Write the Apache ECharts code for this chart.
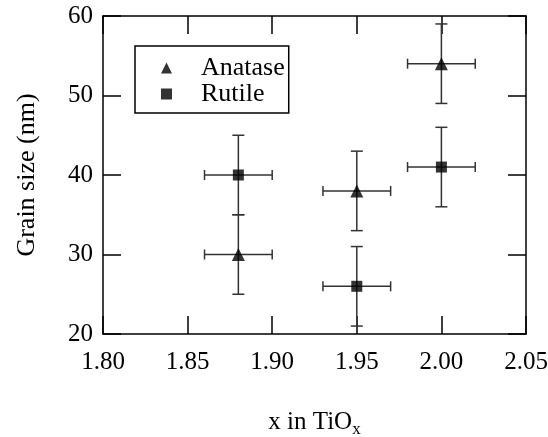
<!DOCTYPE html>
<html>
<head>
<meta charset="utf-8">
<script src="https://cdn.jsdelivr.net/npm/echarts@6/dist/echarts.min.js"></script>
<style>html,body{margin:0;padding:0;background:#fff}#c{width:548px;height:437px}</style>
</head>
<body>
<div id="c"></div>
<script>
const xValues = [1.88, 1.95, 2.00];
const xErr = [0.02, 0.02, 0.02];
const anataseSize = [30, 38, 54];
const anataseErr = [5, 5, 5];
const rutileSize = [40, 26, 41];
const rutileErr = [5, 5, 5];
const xTicks = [1.80, 1.85, 1.90, 1.95, 2.00, 2.05];
const yTicks = [20, 30, 40, 50, 60];

const FONT = '"Liberation Serif", "DejaVu Serif", serif';
const chart = echarts.init(document.getElementById('c'), null, {renderer: 'canvas'});

function errData(ys, yerr) {
  return xValues.map((x, i) => [x, ys[i], xErr[i], yerr[i]]);
}
function errRender(params, api) {
  const x = api.value(0), y = api.value(1), dx = api.value(2), dy = api.value(3);
  const l = api.coord([x - dx, y]), r = api.coord([x + dx, y]);
  const t = api.coord([x, y + dy]), b = api.coord([x, y - dy]);
  const st = {stroke: '#333', lineWidth: 1.5};
  const cw = 6, ch = 5;
  const line = (x1, y1, x2, y2) => ({type: 'line', shape: {x1, y1, x2, y2}, style: st});
  return {type: 'group', children: [
    line(l[0], l[1], r[0], r[1]),
    line(l[0], l[1] - ch, l[0], l[1] + ch),
    line(r[0], r[1] - ch, r[0], r[1] + ch),
    line(t[0], t[1], b[0], b[1]),
    line(t[0] - cw, t[1], t[0] + cw, t[1]),
    line(b[0] - cw, b[1], b[0] + cw, b[1])
  ]};
}

const axisCommon = {
  axisLine: {show: true, onZero: false, lineStyle: {color: '#000', width: 1.5}},
  axisTick: {show: true, inside: true, length: 18, lineStyle: {color: '#000', width: 1.5}},
  splitLine: {show: false}
};

chart.setOption({
  backgroundColor: '#fff',
  animation: false,
  grid: {left: 103, right: 22, top: 16, bottom: 103, containLabel: false, outerBoundsMode: 'none'},
  legend: {
    data: [{name: 'Anatase', icon: 'triangle'}, {name: 'Rutile', icon: 'rect'}],
    orient: 'vertical',
    left: 135, top: 46,
    itemWidth: 11, itemHeight: 11,
    itemGap: 0,
    padding: [9, 4, 6, 26],
    borderColor: '#000', borderWidth: 1.5,
    textStyle: {fontFamily: FONT, fontSize: 26, color: '#000', lineHeight: 24, padding: [0, 0, 0, 24]}
  },
  xAxis: [Object.assign({
    type: 'value', min: 1.80, max: 2.05, interval: 0.05, position: 'bottom',
    name: 'x in TiO{sub|x}', nameLocation: 'middle', nameGap: 75,
    nameTextStyle: {fontFamily: FONT, fontSize: 25, color: '#000', lineHeight: 26,
      rich: {sub: {fontFamily: FONT, fontSize: 17, lineHeight: 17, color: '#000', padding: [16, 0, 0, 0]}}},
    axisLabel: {fontFamily: FONT, fontSize: 25, color: '#000', margin: 16,
      formatter: v => { const m = xTicks.find(t => Math.abs(t - v) < 1e-6); return m !== undefined ? m.toFixed(2) : ''; }}
  }, axisCommon), Object.assign({
    type: 'value', min: 1.80, max: 2.05, interval: 0.05, position: 'top',
    axisLabel: {show: false}
  }, axisCommon)],
  yAxis: [Object.assign({
    type: 'value', min: 20, max: 60, interval: 10, position: 'left',
    name: 'Grain size (nm)', nameLocation: 'middle', nameGap: 63, nameRotate: 90,
    nameTextStyle: {fontFamily: FONT, fontSize: 26, color: '#000'},
    axisLabel: {fontFamily: FONT, fontSize: 25, color: '#000', margin: 10,
      formatter: v => (yTicks.indexOf(v) >= 0 ? String(v) : '')}
  }, axisCommon), Object.assign({
    type: 'value', min: 20, max: 60, interval: 10, position: 'right',
    axisLabel: {show: false}
  }, axisCommon)],
  series: [
    {type: 'custom', name: 'AnataseErr', renderItem: errRender, data: errData(anataseSize, anataseErr), z: 2, silent: true},
    {type: 'custom', name: 'RutileErr', renderItem: errRender, data: errData(rutileSize, rutileErr), z: 2, silent: true},
    {type: 'scatter', name: 'Anatase', symbol: 'triangle', symbolSize: 13,
      itemStyle: {color: '#000'}, data: xValues.map((x, i) => [x, anataseSize[i]]), z: 3},
    {type: 'scatter', name: 'Rutile', symbol: 'rect', symbolSize: 11,
      itemStyle: {color: '#000'}, data: xValues.map((x, i) => [x, rutileSize[i]]), z: 3}
  ]
});
</script>
</body>
</html>
